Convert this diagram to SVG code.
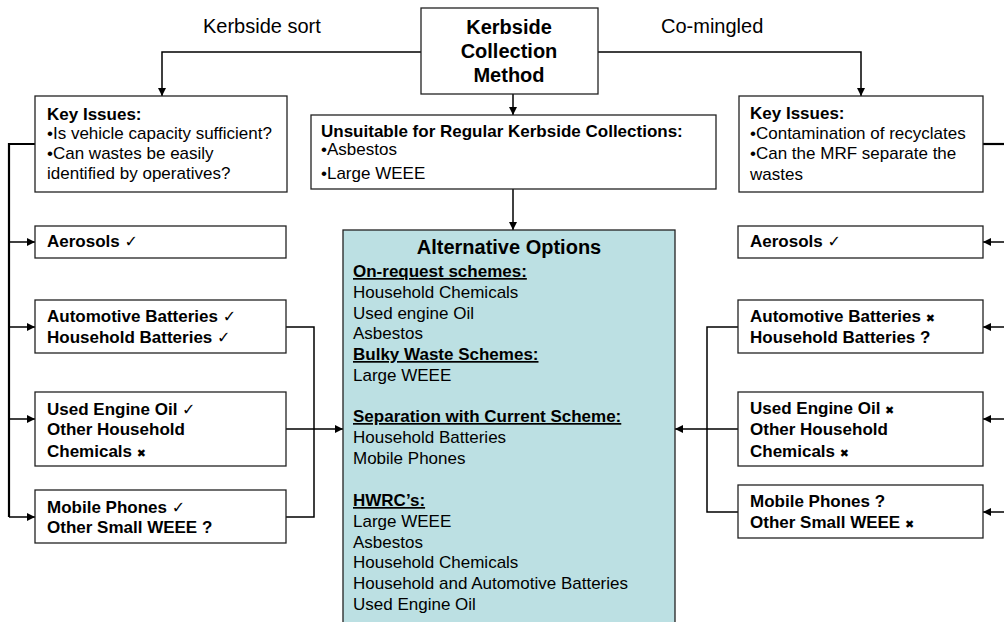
<svg xmlns="http://www.w3.org/2000/svg" width="1004" height="622" viewBox="0 0 1004 622">
  <defs>
    <marker id="arr" viewBox="0 0 10 10" refX="10" refY="5" markerWidth="8" markerHeight="8" markerUnits="userSpaceOnUse" orient="auto">
      <path d="M0,0 L10,5 L0,10 z" fill="#000"/>
    </marker>
    <style>
      text { font-family: "Liberation Sans", Arial, sans-serif; fill: #000; }
      .box { fill: #fff; stroke: #222; stroke-width: 1.3; }
      .alt { fill: #bce0e3; stroke: #222; stroke-width: 1.3; }
      .t17 { font-size: 17px; }
      .b17 { font-size: 17px; font-weight: bold; }
      .b20 { font-size: 20px; font-weight: bold; }
      .r20 { font-size: 20px; }
      .u { text-decoration: underline; }
      .sym { font-family: "DejaVu Sans", sans-serif; font-weight: bold; font-size: 16px; }
      .x { font-family: "DejaVu Sans", sans-serif; font-weight: normal; font-size: 11px; }
      .ln { fill: none; stroke: #000; stroke-width: 1.5; }
      .thick { fill: none; stroke: #000; stroke-width: 2.2; }
    </style>
  </defs>

  <rect width="1004" height="622" fill="#fff"/>

  <!-- connectors -->
  <g id="connectors">
    <path class="ln" d="M421,52 H162 V96" marker-end="url(#arr)"/>
    <path class="ln" d="M597,52 H861 V96" marker-end="url(#arr)"/>
    <path class="ln" d="M513,94 V115" marker-end="url(#arr)"/>
    <path class="ln" d="M513,189 V230" marker-end="url(#arr)"/>

    <!-- kerbside sort branch -->
    <path class="thick" d="M35,144 H9 V517"/>
    <path class="ln" d="M9,242 H35" marker-end="url(#arr)"/>
    <path class="ln" d="M9,327 H35" marker-end="url(#arr)"/>
    <path class="ln" d="M9,419 H35" marker-end="url(#arr)"/>
    <path class="ln" d="M9,517 H35" marker-end="url(#arr)"/>
    <path class="ln" d="M286,327 H314 V517 H286"/>
    <path class="ln" d="M286,429 H343" marker-end="url(#arr)"/>

    <!-- co-mingled branch -->
    <path class="thick" d="M983,144 H1006"/>
    <path class="ln" d="M1006,242 H983" marker-end="url(#arr)"/>
    <path class="ln" d="M1006,327 H983" marker-end="url(#arr)"/>
    <path class="ln" d="M1006,419 H983" marker-end="url(#arr)"/>
    <path class="ln" d="M1006,512 H983" marker-end="url(#arr)"/>
    <path class="ln" d="M738,327 H707 V512 H738"/>
    <path class="ln" d="M738,429 H675" marker-end="url(#arr)"/>
  </g>

  <text class="r20" x="203" y="33">Kerbside sort</text>
  <text class="r20" x="661" y="33">Co-mingled</text>

  <g id="method">
    <rect class="box" x="421" y="8" width="177" height="86"/>
    <text class="b20" text-anchor="middle" x="509" y="34">Kerbside</text>
    <text class="b20" text-anchor="middle" x="509" y="58">Collection</text>
    <text class="b20" text-anchor="middle" x="509" y="82">Method</text>
  </g>

  <g id="unsuitable">
    <rect class="box" x="311" y="115" width="405" height="74"/>
    <text class="b17" x="321" y="137">Unsuitable for Regular Kerbside Collections:</text>
    <text class="t17" x="321" y="155">•Asbestos</text>
    <text class="t17" x="321" y="179">•Large WEEE</text>
  </g>

  <g id="issues-sort">
    <rect class="box" x="35" y="96" width="252" height="96"/>
    <text class="b17" x="47" y="120">Key Issues:</text>
    <text class="t17" x="47" y="139">•Is vehicle capacity sufficient?</text>
    <text class="t17" x="47" y="159">•Can wastes be easily</text>
    <text class="t17" x="47" y="179">identified by operatives?</text>
  </g>

  <g id="issues-mingled">
    <rect class="box" x="739" y="96" width="244" height="96"/>
    <text class="b17" x="750" y="119">Key Issues:</text>
    <text class="t17" x="750" y="139">•Contamination of recyclates</text>
    <text class="t17" x="750" y="159">•Can the MRF separate the</text>
    <text class="t17" x="750" y="180">wastes</text>
  </g>

  <!-- kerbside sort items -->
  <g id="sort-aerosols">
    <rect class="box" x="35" y="226" width="251" height="32"/>
    <text class="b17" x="47" y="247">Aerosols <tspan class="sym">✓</tspan></text>
  </g>
  <g id="sort-batteries">
    <rect class="box" x="35" y="300" width="251" height="53"/>
    <text class="b17" x="47" y="322">Automotive Batteries <tspan class="sym">✓</tspan></text>
    <text class="b17" x="47" y="343">Household Batteries <tspan class="sym">✓</tspan></text>
  </g>
  <g id="sort-chemicals">
    <rect class="box" x="35" y="392" width="251" height="74"/>
    <text class="b17" x="47" y="415">Used Engine Oil <tspan class="sym">✓</tspan></text>
    <text class="b17" x="47" y="435">Other Household</text>
    <text class="b17" x="47" y="457">Chemicals <tspan class="x">✖</tspan></text>
  </g>
  <g id="sort-weee">
    <rect class="box" x="35" y="490" width="251" height="53"/>
    <text class="b17" x="47" y="513">Mobile Phones <tspan class="sym">✓</tspan></text>
    <text class="b17" x="47" y="533">Other Small WEEE ?</text>
  </g>

  <!-- co-mingled items -->
  <g id="mingled-aerosols">
    <rect class="box" x="738" y="226" width="245" height="32"/>
    <text class="b17" x="750" y="247">Aerosols <tspan class="sym">✓</tspan></text>
  </g>
  <g id="mingled-batteries">
    <rect class="box" x="738" y="300" width="245" height="53"/>
    <text class="b17" x="750" y="322">Automotive Batteries <tspan class="x">✖</tspan></text>
    <text class="b17" x="750" y="343">Household Batteries ?</text>
  </g>
  <g id="mingled-chemicals">
    <rect class="box" x="738" y="392" width="245" height="74"/>
    <text class="b17" x="750" y="414">Used Engine Oil <tspan class="x">✖</tspan></text>
    <text class="b17" x="750" y="435">Other Household</text>
    <text class="b17" x="750" y="457">Chemicals <tspan class="x">✖</tspan></text>
  </g>
  <g id="mingled-weee">
    <rect class="box" x="738" y="485" width="245" height="53"/>
    <text class="b17" x="750" y="507">Mobile Phones ?</text>
    <text class="b17" x="750" y="528">Other Small WEEE <tspan class="x">✖</tspan></text>
  </g>

  <g id="alternatives">
    <rect class="alt" x="343" y="230" width="332" height="400"/>
    <text class="b20" text-anchor="middle" x="509" y="254">Alternative Options</text>
    <text class="b17 u" x="353" y="277">On-request schemes:</text>
    <text class="t17" x="353" y="298">Household Chemicals</text>
    <text class="t17" x="353" y="319">Used engine Oil</text>
    <text class="t17" x="353" y="339">Asbestos</text>
    <text class="b17 u" x="353" y="360">Bulky Waste Schemes:</text>
    <text class="t17" x="353" y="381">Large WEEE</text>
    <text class="b17 u" x="353" y="422">Separation with Current Scheme:</text>
    <text class="t17" x="353" y="443">Household Batteries</text>
    <text class="t17" x="353" y="464">Mobile Phones</text>
    <text class="b17 u" x="353" y="506">HWRC’s:</text>
    <text class="t17" x="353" y="527">Large WEEE</text>
    <text class="t17" x="353" y="548">Asbestos</text>
    <text class="t17" x="353" y="568">Household Chemicals</text>
    <text class="t17" x="353" y="589">Household and Automotive Batteries</text>
    <text class="t17" x="353" y="610">Used Engine Oil</text>
  </g>
</svg>
